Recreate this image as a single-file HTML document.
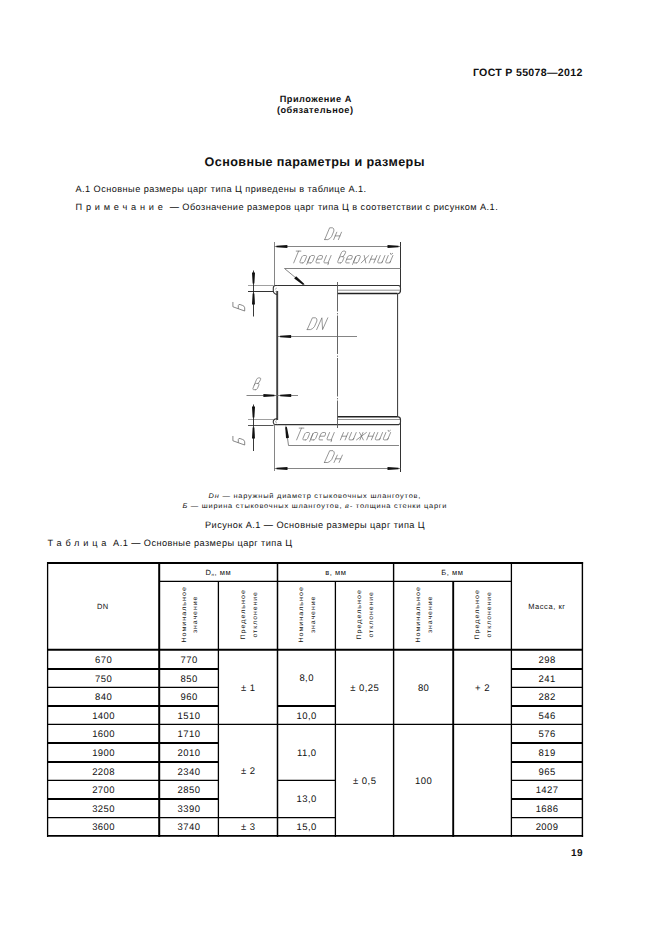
<!DOCTYPE html>
<html><head><meta charset="utf-8"><style>
html,body{margin:0;padding:0;background:#fff;}
body{width:661px;height:935px;overflow:hidden;position:relative;}
svg{position:absolute;left:0;top:0;}
text{font-family:"Liberation Sans",sans-serif;fill:#111;text-rendering:geometricPrecision;}
</style></head><body>
<svg width="661" height="935" viewBox="0 0 661 935">
<text x="582.60" y="76.10" font-size="10.6" text-anchor="end" font-weight="bold" letter-spacing="0.3">ГОСТ Р 55078—2012</text>
<text x="315.75" y="101.80" font-size="9.2" text-anchor="middle" font-weight="bold" letter-spacing="0.5">Приложение А</text>
<text x="315.25" y="112.80" font-size="9.2" text-anchor="middle" font-weight="bold" letter-spacing="0.5">(обязательное)</text>
<text x="314.70" y="165.80" font-size="12.6" text-anchor="middle" font-weight="bold" letter-spacing="0.4">Основные параметры и размеры</text>
<text x="75.50" y="191.80" font-size="9.2" letter-spacing="0.44">А.1 Основные размеры царг типа Ц приведены в таблице А.1.</text>
<text x="75.50" y="209.80" font-size="9.2" letter-spacing="0.44"><tspan letter-spacing="3.8">Примечание</tspan> — Обозначение размеров царг типа Ц в соответствии с рисунком А.1.</text>
<text x="208.60" y="497.70" font-size="6.8" letter-spacing="0.7" textLength="212.5" lengthAdjust="spacingAndGlyphs"><tspan font-style="italic">Dн</tspan> — наружный диаметр стыковочных шлангоутов,</text>
<text x="182.40" y="507.70" font-size="6.8" letter-spacing="0.7" textLength="264.8" lengthAdjust="spacingAndGlyphs"><tspan font-style="italic">Б</tspan> — ширина стыковочных шлангоутов, <tspan font-style="italic">в-</tspan> толщина стенки царги</text>
<text x="205.00" y="527.80" font-size="9.2" letter-spacing="0.44">Рисунок А.1 — Основные размеры царг типа Ц</text>
<text x="47.50" y="545.80" font-size="9.2" letter-spacing="0.44"><tspan letter-spacing="3.8">Таблица</tspan> А.1 — Основные размеры царг типа Ц</text>
<text x="582.80" y="855.80" font-size="10" text-anchor="end" font-weight="bold" letter-spacing="0.3">19</text>
<line x1="47.0" y1="563" x2="583.1" y2="563" stroke="#000" stroke-width="1.9"/>
<line x1="47.0" y1="835.9" x2="583.1" y2="835.9" stroke="#000" stroke-width="1.9"/>
<line x1="159.2" y1="581.4" x2="511.4" y2="581.4" stroke="#000" stroke-width="1.3"/>
<line x1="47.6" y1="649.75" x2="582.4" y2="649.75" stroke="#000" stroke-width="2.1"/>
<line x1="47.6" y1="562" x2="47.6" y2="836.9" stroke="#000" stroke-width="1.3"/>
<line x1="159.2" y1="562" x2="159.2" y2="836.9" stroke="#000" stroke-width="2"/>
<line x1="218.4" y1="581.4" x2="218.4" y2="836.9" stroke="#000" stroke-width="1.3"/>
<line x1="277.5" y1="562" x2="277.5" y2="836.9" stroke="#000" stroke-width="1.5"/>
<line x1="335.4" y1="581.4" x2="335.4" y2="836.9" stroke="#000" stroke-width="1.3"/>
<line x1="393.6" y1="562" x2="393.6" y2="836.9" stroke="#000" stroke-width="1.4"/>
<line x1="453.2" y1="581.4" x2="453.2" y2="836.9" stroke="#000" stroke-width="1.9"/>
<line x1="511.4" y1="562" x2="511.4" y2="836.9" stroke="#000" stroke-width="1.3"/>
<line x1="582.4" y1="562" x2="582.4" y2="836.9" stroke="#000" stroke-width="1.4"/>
<line x1="47.6" y1="669" x2="218.4" y2="669" stroke="#000" stroke-width="2.0"/>
<line x1="511.4" y1="669" x2="582.4" y2="669" stroke="#000" stroke-width="2.0"/>
<line x1="47.6" y1="687.4" x2="218.4" y2="687.4" stroke="#000" stroke-width="1.25"/>
<line x1="511.4" y1="687.4" x2="582.4" y2="687.4" stroke="#000" stroke-width="1.25"/>
<line x1="47.6" y1="706" x2="218.4" y2="706" stroke="#000" stroke-width="2.0"/>
<line x1="277.5" y1="706" x2="335.4" y2="706" stroke="#000" stroke-width="2.0"/>
<line x1="511.4" y1="706" x2="582.4" y2="706" stroke="#000" stroke-width="2.0"/>
<line x1="47.6" y1="724.4" x2="582.4" y2="724.4" stroke="#000" stroke-width="1.25"/>
<line x1="47.6" y1="742.9" x2="218.4" y2="742.9" stroke="#000" stroke-width="2.0"/>
<line x1="511.4" y1="742.9" x2="582.4" y2="742.9" stroke="#000" stroke-width="2.0"/>
<line x1="47.6" y1="762" x2="218.4" y2="762" stroke="#000" stroke-width="2.0"/>
<line x1="511.4" y1="762" x2="582.4" y2="762" stroke="#000" stroke-width="2.0"/>
<line x1="47.6" y1="780.3" x2="218.4" y2="780.3" stroke="#000" stroke-width="1.25"/>
<line x1="277.5" y1="780.3" x2="335.4" y2="780.3" stroke="#000" stroke-width="1.25"/>
<line x1="511.4" y1="780.3" x2="582.4" y2="780.3" stroke="#000" stroke-width="1.25"/>
<line x1="47.6" y1="799.1" x2="218.4" y2="799.1" stroke="#000" stroke-width="2.0"/>
<line x1="511.4" y1="799.1" x2="582.4" y2="799.1" stroke="#000" stroke-width="2.0"/>
<line x1="47.6" y1="817.5" x2="277.5" y2="817.5" stroke="#000" stroke-width="1.25"/>
<line x1="277.5" y1="817.5" x2="335.4" y2="817.5" stroke="#000" stroke-width="1.25"/>
<line x1="511.4" y1="817.5" x2="582.4" y2="817.5" stroke="#000" stroke-width="1.25"/>
<text x="102.88" y="609.00" font-size="7.5" text-anchor="middle" letter-spacing="0.55">DN</text>
<text x="546.88" y="609.00" font-size="7.5" text-anchor="middle" letter-spacing="0.55">Масса, кг</text>
<text x="218.28" y="575.00" font-size="7.5" text-anchor="middle" letter-spacing="0.55">D<tspan font-size="4.5" dy="1">н</tspan><tspan dy="-1">, мм</tspan></text>
<text x="335.77" y="575.00" font-size="7.5" text-anchor="middle" letter-spacing="0.55">в, мм</text>
<text x="452.27" y="575.00" font-size="7.5" text-anchor="middle" letter-spacing="0.55">Б, мм</text>
<g transform="translate(188.80,614.8) rotate(-90)">
<text x="0.45" y="-3.30" font-size="6.4" text-anchor="middle" letter-spacing="0.9" textLength="56.5" lengthAdjust="spacingAndGlyphs">Номинальное</text>
<text x="0.45" y="8.70" font-size="6.4" text-anchor="middle" letter-spacing="0.9" textLength="37.5" lengthAdjust="spacingAndGlyphs">значение</text>
</g>
<g transform="translate(306.45,614.8) rotate(-90)">
<text x="0.45" y="-3.30" font-size="6.4" text-anchor="middle" letter-spacing="0.9" textLength="56.5" lengthAdjust="spacingAndGlyphs">Номинальное</text>
<text x="0.45" y="8.70" font-size="6.4" text-anchor="middle" letter-spacing="0.9" textLength="37.5" lengthAdjust="spacingAndGlyphs">значение</text>
</g>
<g transform="translate(423.40,614.8) rotate(-90)">
<text x="0.45" y="-3.30" font-size="6.4" text-anchor="middle" letter-spacing="0.9" textLength="56.5" lengthAdjust="spacingAndGlyphs">Номинальное</text>
<text x="0.45" y="8.70" font-size="6.4" text-anchor="middle" letter-spacing="0.9" textLength="37.5" lengthAdjust="spacingAndGlyphs">значение</text>
</g>
<g transform="translate(247.95,614.8) rotate(-90)">
<text x="0.45" y="-3.30" font-size="6.4" text-anchor="middle" letter-spacing="0.9" textLength="50.5" lengthAdjust="spacingAndGlyphs">Предельное</text>
<text x="0.45" y="8.70" font-size="6.4" text-anchor="middle" letter-spacing="0.9" textLength="46.5" lengthAdjust="spacingAndGlyphs">отклонение</text>
</g>
<g transform="translate(364.50,614.8) rotate(-90)">
<text x="0.45" y="-3.30" font-size="6.4" text-anchor="middle" letter-spacing="0.9" textLength="50.5" lengthAdjust="spacingAndGlyphs">Предельное</text>
<text x="0.45" y="8.70" font-size="6.4" text-anchor="middle" letter-spacing="0.9" textLength="46.5" lengthAdjust="spacingAndGlyphs">отклонение</text>
</g>
<g transform="translate(482.30,614.8) rotate(-90)">
<text x="0.45" y="-3.30" font-size="6.4" text-anchor="middle" letter-spacing="0.9" textLength="50.5" lengthAdjust="spacingAndGlyphs">Предельное</text>
<text x="0.45" y="8.70" font-size="6.4" text-anchor="middle" letter-spacing="0.9" textLength="46.5" lengthAdjust="spacingAndGlyphs">отклонение</text>
</g>
<text x="103.62" y="662.88" font-size="9.5" text-anchor="middle" letter-spacing="0.45">670</text>
<text x="189.03" y="662.88" font-size="9.5" text-anchor="middle" letter-spacing="0.45">770</text>
<text x="547.12" y="662.88" font-size="9.5" text-anchor="middle" letter-spacing="0.45">298</text>
<text x="103.62" y="681.70" font-size="9.5" text-anchor="middle" letter-spacing="0.45">750</text>
<text x="189.03" y="681.70" font-size="9.5" text-anchor="middle" letter-spacing="0.45">850</text>
<text x="547.12" y="681.70" font-size="9.5" text-anchor="middle" letter-spacing="0.45">241</text>
<text x="103.62" y="700.20" font-size="9.5" text-anchor="middle" letter-spacing="0.45">840</text>
<text x="189.03" y="700.20" font-size="9.5" text-anchor="middle" letter-spacing="0.45">960</text>
<text x="547.12" y="700.20" font-size="9.5" text-anchor="middle" letter-spacing="0.45">282</text>
<text x="103.62" y="718.70" font-size="9.5" text-anchor="middle" letter-spacing="0.45">1400</text>
<text x="189.03" y="718.70" font-size="9.5" text-anchor="middle" letter-spacing="0.45">1510</text>
<text x="547.12" y="718.70" font-size="9.5" text-anchor="middle" letter-spacing="0.45">546</text>
<text x="103.62" y="737.15" font-size="9.5" text-anchor="middle" letter-spacing="0.45">1600</text>
<text x="189.03" y="737.15" font-size="9.5" text-anchor="middle" letter-spacing="0.45">1710</text>
<text x="547.12" y="737.15" font-size="9.5" text-anchor="middle" letter-spacing="0.45">576</text>
<text x="103.62" y="755.95" font-size="9.5" text-anchor="middle" letter-spacing="0.45">1900</text>
<text x="189.03" y="755.95" font-size="9.5" text-anchor="middle" letter-spacing="0.45">2010</text>
<text x="547.12" y="755.95" font-size="9.5" text-anchor="middle" letter-spacing="0.45">819</text>
<text x="103.62" y="774.65" font-size="9.5" text-anchor="middle" letter-spacing="0.45">2208</text>
<text x="189.03" y="774.65" font-size="9.5" text-anchor="middle" letter-spacing="0.45">2340</text>
<text x="547.12" y="774.65" font-size="9.5" text-anchor="middle" letter-spacing="0.45">965</text>
<text x="103.62" y="793.20" font-size="9.5" text-anchor="middle" letter-spacing="0.45">2700</text>
<text x="189.03" y="793.20" font-size="9.5" text-anchor="middle" letter-spacing="0.45">2850</text>
<text x="547.12" y="793.20" font-size="9.5" text-anchor="middle" letter-spacing="0.45">1427</text>
<text x="103.62" y="811.80" font-size="9.5" text-anchor="middle" letter-spacing="0.45">3250</text>
<text x="189.03" y="811.80" font-size="9.5" text-anchor="middle" letter-spacing="0.45">3390</text>
<text x="547.12" y="811.80" font-size="9.5" text-anchor="middle" letter-spacing="0.45">1686</text>
<text x="103.62" y="830.20" font-size="9.5" text-anchor="middle" letter-spacing="0.45">3600</text>
<text x="189.03" y="830.20" font-size="9.5" text-anchor="middle" letter-spacing="0.45">3740</text>
<text x="547.12" y="830.20" font-size="9.5" text-anchor="middle" letter-spacing="0.45">2009</text>
<text x="248.17" y="690.58" font-size="9.5" text-anchor="middle" letter-spacing="0.45">± 1</text>
<text x="248.17" y="774.45" font-size="9.5" text-anchor="middle" letter-spacing="0.45">± 2</text>
<text x="248.17" y="830.20" font-size="9.5" text-anchor="middle" letter-spacing="0.45">± 3</text>
<text x="306.68" y="681.38" font-size="9.5" text-anchor="middle" letter-spacing="0.45">8,0</text>
<text x="306.68" y="718.70" font-size="9.5" text-anchor="middle" letter-spacing="0.45">10,0</text>
<text x="306.68" y="755.85" font-size="9.5" text-anchor="middle" letter-spacing="0.45">11,0</text>
<text x="306.68" y="802.40" font-size="9.5" text-anchor="middle" letter-spacing="0.45">13,0</text>
<text x="306.68" y="830.20" font-size="9.5" text-anchor="middle" letter-spacing="0.45">15,0</text>
<text x="364.73" y="690.58" font-size="9.5" text-anchor="middle" letter-spacing="0.45">± 0,25</text>
<text x="364.73" y="783.65" font-size="9.5" text-anchor="middle" letter-spacing="0.45">± 0,5</text>
<text x="423.62" y="690.58" font-size="9.5" text-anchor="middle" letter-spacing="0.45">80</text>
<text x="423.62" y="783.65" font-size="9.5" text-anchor="middle" letter-spacing="0.45">100</text>
<text x="482.52" y="690.58" font-size="9.5" text-anchor="middle" letter-spacing="0.45">+ 2</text>
<line x1="274.5" y1="242" x2="274.5" y2="285.5" stroke="#666" stroke-width="0.8"/>
<line x1="400.5" y1="242" x2="400.5" y2="292" stroke="#333" stroke-width="1.0"/>
<line x1="274.5" y1="246.5" x2="400.5" y2="246.5" stroke="#666" stroke-width="0.8"/>
<path d="M276.40,245.65 L287.40,245.00 L287.40,248.00 L276.40,247.35 Z" fill="#111"/>
<path d="M398.50,247.35 L387.50,248.00 L387.50,245.00 L398.50,245.65 Z" fill="#111"/>
<path d="M324.70,239.60 L329.64,227.80 L332.74,227.80 L333.79,229.00 L333.90,231.00 L331.55,236.60 L329.77,238.60 L327.80,239.60 L324.70,239.60 M333.67,239.60 L336.77,232.20 M338.40,239.60 L341.50,232.20 M335.22,235.90 L339.95,235.90" fill="none" stroke="#6a6a6a" stroke-width="0.7" stroke-linejoin="round" stroke-linecap="round"/>
<path d="M296.24,251.10 L300.91,251.10 M298.58,251.10 L293.70,262.90 M302.68,262.90 L303.25,262.78 L303.83,262.43 L304.34,261.91 L304.70,261.30 L306.43,257.10 L306.58,256.49 L306.50,255.97 L306.21,255.62 L305.74,255.50 L303.78,255.50 L303.21,255.62 L302.63,255.97 L302.12,256.49 L301.76,257.10 L300.03,261.30 L299.88,261.91 L299.96,262.43 L300.25,262.78 L300.72,262.90 L302.68,262.90 M310.68,262.90 L311.25,262.78 L311.83,262.43 L312.34,261.91 L312.70,261.30 L314.44,257.10 L314.58,256.49 L314.50,255.97 L314.21,255.62 L313.74,255.50 L311.78,255.50 L311.21,255.62 L310.63,255.97 L310.12,256.49 L309.76,257.10 L308.03,261.30 L307.88,261.91 L307.96,262.43 L308.26,262.78 L308.73,262.90 L310.68,262.90 M310.01,256.50 L306.75,264.40 M316.90,259.20 L321.57,259.20 L322.44,257.10 L322.38,255.80 L321.74,255.50 L319.78,255.50 L318.43,256.10 L317.76,257.10 L316.03,261.30 L315.96,262.50 L316.73,262.90 L319.45,262.90 M326.43,255.50 L324.03,261.30 L323.96,262.50 L324.73,262.90 L328.04,262.90 M331.10,255.50 L328.04,262.90 L328.64,262.90 L327.89,264.70 M340.48,262.90 L341.05,262.78 L341.63,262.43 L342.14,261.91 L342.50,261.30 L343.77,258.21 L343.92,257.60 L343.84,257.08 L343.54,256.73 L343.07,256.61 L341.12,256.61 L340.55,256.73 L339.97,257.08 L339.46,257.60 L339.10,258.21 L337.82,261.30 L337.67,261.91 L337.75,262.43 L338.05,262.78 L338.52,262.90 L340.48,262.90 M339.10,258.21 L341.38,252.70 L342.30,251.50 L343.40,251.10 L344.93,251.10 L345.66,251.60 L345.54,252.70 L343.96,255.71 L342.65,256.61 M346.69,259.20 L351.36,259.20 L352.23,257.10 L352.18,255.80 L351.53,255.50 L349.58,255.50 L348.23,256.10 L347.56,257.10 L345.82,261.30 L345.75,262.50 L346.52,262.90 L349.24,262.90 M356.48,262.90 L357.05,262.78 L357.63,262.43 L358.14,261.91 L358.50,261.30 L360.23,257.10 L360.38,256.49 L360.30,255.97 L360.01,255.62 L359.54,255.50 L357.58,255.50 L357.01,255.62 L356.43,255.97 L355.92,256.49 L355.56,257.10 L353.83,261.30 L353.68,261.91 L353.76,262.43 L354.05,262.78 L354.52,262.90 L356.48,262.90 M355.81,256.50 L352.55,264.40 M361.17,262.90 L368.90,255.50 M364.22,255.50 L365.84,262.90 M369.17,262.90 L372.23,255.50 M373.84,262.90 L376.90,255.50 M370.70,259.20 L375.37,259.20 M380.23,255.50 L377.83,261.30 L377.76,262.50 L378.53,262.90 L380.48,262.90 L381.58,262.50 L382.50,261.30 M384.90,255.50 L381.84,262.90 M388.23,255.50 L385.83,261.30 L385.76,262.50 L386.53,262.90 L388.48,262.90 L389.58,262.50 L390.50,261.30 M392.90,255.50 L389.84,262.90 M390.50,253.30 L390.63,254.20 L391.65,254.20 L392.70,253.30" fill="none" stroke="#6a6a6a" stroke-width="0.7" stroke-linejoin="round" stroke-linecap="round"/>
<line x1="284.5" y1="268.5" x2="400.5" y2="268.5" stroke="#666" stroke-width="0.8"/>
<line x1="284.5" y1="268.5" x2="305" y2="285.5" stroke="#666" stroke-width="0.8"/>
<path d="M303.07,285.01 L294.19,278.48 L296.10,276.17 L304.16,283.70 Z" fill="#111"/>
<line x1="277.5" y1="285.5" x2="399" y2="285.5" stroke="#333" stroke-width="1.0"/>
<path d="M398.5,285.5 Q400.5,285.5 400.5,288 L400.5,290.5 Q400.5,293.5 397.5,293.8" fill="none" stroke="#333" stroke-width="1.1"/>
<line x1="337.4" y1="290.2" x2="400" y2="290.2" stroke="#777" stroke-width="0.8"/>
<line x1="337.4" y1="293.5" x2="397.5" y2="293.5" stroke="#222" stroke-width="1.6"/>
<line x1="397.6" y1="293.5" x2="397.6" y2="416.8" stroke="#333" stroke-width="1.0"/>
<line x1="337.4" y1="416.7" x2="397.6" y2="416.7" stroke="#222" stroke-width="1.6"/>
<line x1="337.4" y1="419.5" x2="400" y2="419.5" stroke="#777" stroke-width="0.8"/>
<path d="M397.5,416.6 Q400.5,417 400.5,419.5 L400.5,422 Q400.5,424.5 398.5,424.5" fill="none" stroke="#333" stroke-width="1.1"/>
<line x1="277.5" y1="424.6" x2="399" y2="424.6" stroke="#333" stroke-width="1.3"/>
<line x1="277.2" y1="291" x2="277.2" y2="420" stroke="#404040" stroke-width="1.9"/>
<path d="M277.8,285.5 L275.5,285.5 Q273.3,285.5 273.3,288 L273.3,291 Q273.5,293.8 277,294.5" fill="none" stroke="#333" stroke-width="1.1"/>
<path d="M276.8,288 Q275.3,288.5 275.3,289.5 M276.8,291 Q275.3,291.3 275.5,292" fill="none" stroke="#777" stroke-width="0.6"/>
<path d="M277,418.6 Q273.3,419 273.3,421.5 L273.3,422.5 Q273.5,424.6 275.5,424.6 L277.8,424.6" fill="none" stroke="#333" stroke-width="1.1"/>
<path d="M276.8,420.5 Q275.3,421 275.5,422 Q276,423 277,423" fill="none" stroke="#777" stroke-width="0.6"/>
<line x1="337.5" y1="282" x2="337.5" y2="428" stroke="#555" stroke-width="0.9" stroke-dasharray="38.5,1.6,1.2,1.2" stroke-dashoffset="9"/>
<line x1="278" y1="336.5" x2="357" y2="336.5" stroke="#666" stroke-width="0.8"/>
<path d="M280.10,335.65 L291.10,335.00 L291.10,338.00 L280.10,337.35 Z" fill="#111"/>
<path d="M307.20,329.60 L312.42,317.80 L315.69,317.80 L316.80,319.00 L316.91,321.00 L314.44,326.60 L312.55,328.60 L310.47,329.60 L307.20,329.60 M316.67,329.60 L321.89,317.80 L322.58,329.60 L327.80,317.80" fill="none" stroke="#6a6a6a" stroke-width="0.7" stroke-linejoin="round" stroke-linecap="round"/>
<line x1="246.5" y1="395.5" x2="298" y2="395.5" stroke="#666" stroke-width="0.8"/>
<path d="M274.40,396.35 L263.40,397.00 L263.40,394.00 L274.40,394.65 Z" fill="#111"/>
<path d="M280.20,394.65 L291.20,394.00 L291.20,397.00 L280.20,396.35 Z" fill="#111"/>
<path d="M255.64,389.70 L256.20,389.58 L256.77,389.23 L257.26,388.71 L257.61,388.10 L258.86,385.01 L259.01,384.40 L258.93,383.88 L258.64,383.53 L258.18,383.41 L256.27,383.41 L255.71,383.53 L255.14,383.88 L254.64,384.40 L254.29,385.01 L253.05,388.10 L252.90,388.71 L252.98,389.23 L253.27,389.58 L253.73,389.70 L255.64,389.70 M254.29,385.01 L256.52,379.50 L257.42,378.30 L258.49,377.90 L259.99,377.90 L260.70,378.40 L260.59,379.50 L259.04,382.51 L257.76,383.41" fill="none" stroke="#6a6a6a" stroke-width="0.7" stroke-linejoin="round" stroke-linecap="round"/>
<line x1="248" y1="285.5" x2="273.5" y2="285.5" stroke="#888" stroke-width="0.8"/>
<line x1="248" y1="291.5" x2="273.5" y2="291.5" stroke="#333" stroke-width="1.0"/>
<line x1="253.5" y1="270.5" x2="253.5" y2="316.5" stroke="#222" stroke-width="0.9"/>
<path d="M252.65,283.50 L252.00,272.50 L255.00,272.50 L254.35,283.50 Z" fill="#111"/>
<path d="M254.35,293.50 L255.00,304.50 L252.00,304.50 L252.65,293.50 Z" fill="#111"/>
<line x1="248" y1="419.5" x2="273.5" y2="419.5" stroke="#888" stroke-width="0.8"/>
<line x1="248" y1="425.5" x2="273.5" y2="425.5" stroke="#555" stroke-width="1.0"/>
<line x1="253.5" y1="404.5" x2="253.5" y2="451" stroke="#222" stroke-width="0.9"/>
<path d="M252.65,417.50 L252.00,406.50 L255.00,406.50 L254.35,417.50 Z" fill="#111"/>
<path d="M254.35,427.50 L255.00,438.50 L252.00,438.50 L252.65,427.50 Z" fill="#111"/>
<path d="M299.16,428.10 L303.86,428.10 M301.51,428.10 L296.60,439.90 M305.64,439.90 L306.22,439.78 L306.81,439.43 L307.32,438.91 L307.68,438.30 L309.43,434.10 L309.58,433.49 L309.50,432.97 L309.20,432.62 L308.72,432.50 L306.76,432.50 L306.18,432.62 L305.59,432.97 L305.08,433.49 L304.72,434.10 L302.97,438.30 L302.82,438.91 L302.90,439.43 L303.20,439.78 L303.68,439.90 L305.64,439.90 M313.70,439.90 L314.28,439.78 L314.87,439.43 L315.38,438.91 L315.74,438.30 L317.49,434.10 L317.64,433.49 L317.56,432.97 L317.26,432.62 L316.78,432.50 L314.81,432.50 L314.24,432.62 L313.65,432.97 L313.14,433.49 L312.78,434.10 L311.03,438.30 L310.88,438.91 L310.96,439.43 L311.26,439.78 L311.73,439.90 L313.70,439.90 M313.03,433.50 L309.74,441.40 M319.97,436.20 L324.67,436.20 L325.55,434.10 L325.49,432.80 L324.84,432.50 L322.87,432.50 L321.51,433.10 L320.84,434.10 L319.09,438.30 L319.02,439.50 L319.79,439.90 L322.53,439.90 M329.56,432.50 L327.15,438.30 L327.08,439.50 L327.85,439.90 L331.19,439.90 M334.27,432.50 L331.19,439.90 L331.79,439.90 L331.04,441.70 M340.38,439.90 L343.46,432.50 M345.08,439.90 L348.16,432.50 M341.92,436.20 L346.62,436.20 M351.52,432.50 L349.10,438.30 L349.03,439.50 L349.81,439.90 L351.77,439.90 L352.88,439.50 L353.81,438.30 M356.22,432.50 L353.14,439.90 M359.58,432.50 L361.46,436.20 L356.50,439.90 M366.42,432.50 L361.46,436.20 L363.34,439.90 M359.92,439.90 L363.00,432.50 M366.70,439.90 L369.78,432.50 M371.40,439.90 L374.48,432.50 M368.24,436.20 L372.94,436.20 M377.83,432.50 L375.42,438.30 L375.35,439.50 L376.12,439.90 L378.09,439.90 L379.20,439.50 L380.13,438.30 M382.54,432.50 L379.46,439.90 M385.89,432.50 L383.48,438.30 L383.41,439.50 L384.18,439.90 L386.15,439.90 L387.26,439.50 L388.19,438.30 M390.60,432.50 L387.52,439.90 M388.18,430.30 L388.32,431.20 L389.34,431.20 L390.40,430.30" fill="none" stroke="#6a6a6a" stroke-width="0.7" stroke-linejoin="round" stroke-linecap="round"/>
<line x1="288.5" y1="445.5" x2="399" y2="445.5" stroke="#666" stroke-width="0.8"/>
<line x1="285.8" y1="425.5" x2="288.5" y2="445.5" stroke="#666" stroke-width="0.8"/>
<path d="M286.89,426.97 L289.04,437.77 L286.07,438.18 L285.20,427.20 Z" fill="#111"/>
<line x1="274.5" y1="424.6" x2="274.5" y2="471" stroke="#666" stroke-width="0.8"/>
<line x1="400.5" y1="419.5" x2="400.5" y2="472" stroke="#333" stroke-width="1.0"/>
<line x1="274.5" y1="468.5" x2="400.5" y2="468.5" stroke="#666" stroke-width="0.8"/>
<path d="M276.50,467.65 L287.50,467.00 L287.50,470.00 L276.50,469.35 Z" fill="#111"/>
<path d="M398.50,469.35 L387.50,470.00 L387.50,467.00 L398.50,467.65 Z" fill="#111"/>
<path d="M324.40,462.50 L329.69,450.70 L333.01,450.70 L334.14,451.90 L334.25,453.90 L331.74,459.50 L329.83,461.50 L327.72,462.50 L324.40,462.50 M334.01,462.50 L337.33,455.10 M339.08,462.50 L342.40,455.10 M335.67,458.80 L340.74,458.80" fill="none" stroke="#6a6a6a" stroke-width="0.7" stroke-linejoin="round" stroke-linecap="round"/>
<path d="M232.90,301.97 L232.90,306.78 L244.70,311.03 L244.70,307.77 L244.10,306.37 L242.70,305.50 L240.10,304.56 L238.90,304.50 L238.30,305.47 L238.30,308.73" fill="none" stroke="#5a5a5a" stroke-width="0.72" stroke-linejoin="round"/>
<path d="M232.90,435.97 L232.90,440.78 L244.70,445.03 L244.70,441.77 L244.10,440.37 L242.70,439.50 L240.10,438.56 L238.90,438.50 L238.30,439.47 L238.30,442.73" fill="none" stroke="#5a5a5a" stroke-width="0.72" stroke-linejoin="round"/>
</svg>
</body></html>
